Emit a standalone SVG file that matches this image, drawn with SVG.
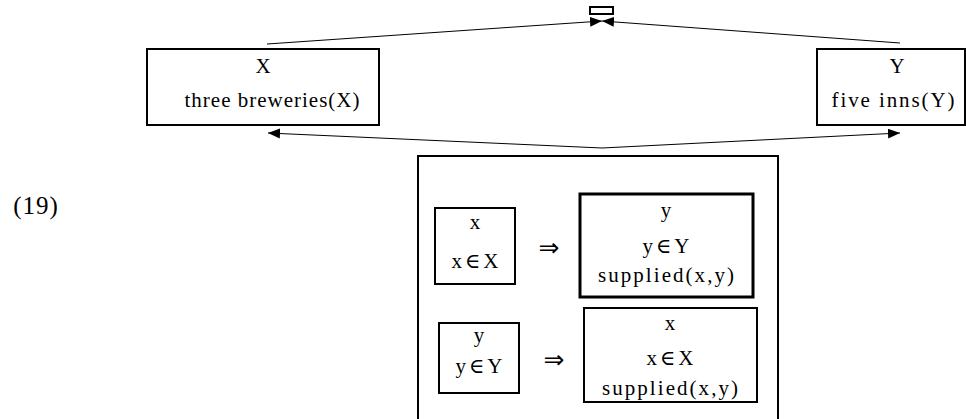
<svg xmlns="http://www.w3.org/2000/svg" width="966" height="419" viewBox="0 0 966 419">
<style>
text{font-family:"Liberation Serif","DejaVu Serif",serif;font-size:21px;fill:#000;text-anchor:middle}
.arr{font-family:"DejaVu Sans",sans-serif;font-size:25px}
.box{fill:none;stroke:#000;stroke-width:2}
.thick{fill:none;stroke:#000;stroke-width:3}
.conn{fill:none;stroke:#000;stroke-width:1}
</style>
<defs>
<marker id="ah" markerUnits="userSpaceOnUse" markerWidth="13" markerHeight="10" refX="12" refY="5" orient="auto">
<path d="M0,0 L12,5 L0,10 z" fill="#000"/>
</marker>
</defs>
<text x="36" y="214" style="font-size:25px;letter-spacing:1px">(19)</text>
<g id="connectors">
<line class="conn" x1="267" y1="44" x2="602" y2="21" marker-end="url(#ah)"/>
<line class="conn" x1="900" y1="43" x2="602" y2="21" marker-end="url(#ah)"/>
<line class="conn" x1="602" y1="148" x2="268" y2="133" marker-end="url(#ah)"/>
<line class="conn" x1="602" y1="148" x2="900" y2="133" marker-end="url(#ah)"/>
</g>
<g id="top">
<rect x="590" y="7" width="23" height="7" fill="#fff" stroke="#000" stroke-width="2"/>
</g>
<g id="nodeX">
<rect class="box" x="147" y="49" width="232" height="76"/>
<text x="263" y="73">X</text>
<text x="272" y="107" textLength="175" lengthAdjust="spacing">three breweries(X)</text>
</g>
<g id="nodeY">
<rect class="box" x="817" y="49" width="148" height="76"/>
<text x="897" y="73">Y</text>
<text x="893" y="107" textLength="123" lengthAdjust="spacing">five inns(Y)</text>
</g>
<g id="drs">
<rect class="box" x="418" y="156" width="360" height="270"/>
</g>
<g id="cond1">
<rect class="box" x="435" y="208" width="80" height="76"/>
<text x="475" y="229">x</text>
<text x="475" y="268" textLength="47" lengthAdjust="spacing">x∈X</text>
</g>
<text class="arr" x="549" y="256">⇒</text>
<g id="cons1">
<rect class="thick" x="580" y="194" width="173" height="103"/>
<text x="666" y="217">y</text>
<text x="666" y="253" textLength="47" lengthAdjust="spacing">y∈Y</text>
<text x="666" y="282" textLength="136" lengthAdjust="spacing">supplied(x,y)</text>
</g>
<g id="cond2">
<rect class="box" x="439" y="323" width="80" height="70"/>
<text x="479" y="342">y</text>
<text x="479" y="373" textLength="47" lengthAdjust="spacing">y∈Y</text>
</g>
<text class="arr" x="554" y="368">⇒</text>
<g id="cons2">
<rect class="box" x="584" y="308" width="173" height="94"/>
<text x="670" y="330">x</text>
<text x="670" y="365" textLength="47" lengthAdjust="spacing">x∈X</text>
<text x="670" y="395" textLength="136" lengthAdjust="spacing">supplied(x,y)</text>
</g>
</svg>
